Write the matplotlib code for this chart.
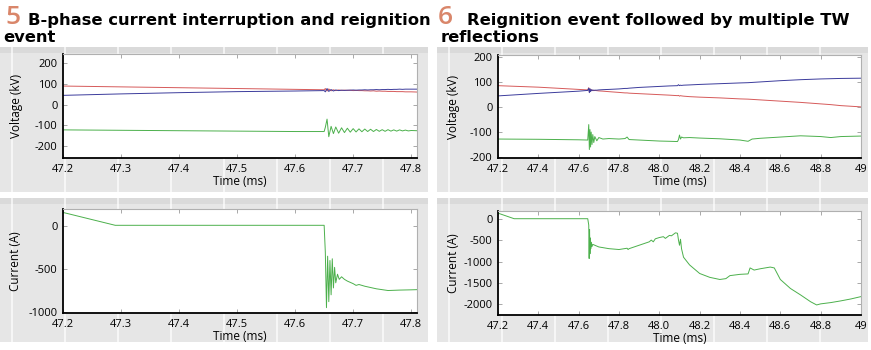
import matplotlib.pyplot as plt
from matplotlib.patches import Rectangle
from matplotlib.lines import Line2D

# ---- panel 5: B-phase current interruption and reignition ----
t5v = [47.20, 47.30, 47.40, 47.50, 47.60, 47.650, 47.652, 47.655, 47.658, 47.662,
       47.666, 47.670, 47.675, 47.680, 47.685, 47.690, 47.695, 47.700, 47.705, 47.710,
       47.715, 47.720, 47.725, 47.730, 47.735, 47.740, 47.745, 47.750, 47.755, 47.760,
       47.765, 47.770, 47.775, 47.780, 47.785, 47.790, 47.795, 47.800, 47.810]
v5_red = [90, 86, 82, 78, 74, 72, 78, 66, 76, 67,
          72, 68, 71, 69, 70, 69, 70, 68, 69, 68,
          68, 67, 67, 66, 67, 65, 66, 65, 65, 64,
          64, 64, 63, 63, 63, 62, 62, 62, 61]
v5_blue = [45, 52, 58, 63, 66, 68, 62, 78, 64, 73,
           66, 71, 68, 70, 69, 70, 70, 71, 70, 71,
           71, 72, 71, 72, 72, 73, 72, 73, 73, 74,
           73, 74, 74, 75, 74, 75, 75, 75, 75]
v5_green = [-122, -124, -126, -128, -130, -130, -110, -70, -155, -105,
            -140, -108, -138, -112, -135, -114, -133, -116, -132, -117,
            -131, -118, -130, -119, -130, -120, -129, -121, -129, -121,
            -128, -122, -128, -122, -127, -123, -127, -125, -126]

t5i = [47.20, 47.29, 47.40, 47.50, 47.60, 47.650, 47.652, 47.654, 47.656, 47.658,
       47.660, 47.662, 47.664, 47.666, 47.668, 47.670, 47.673, 47.676, 47.680, 47.685,
       47.690, 47.700, 47.705, 47.710, 47.720, 47.740, 47.760, 47.780, 47.800, 47.810]
i5 = [160, 10, 10, 10, 10, 10, -300, -950, -350, -880,
      -400, -800, -380, -720, -480, -660, -560, -620, -590, -620,
      -640, -670, -690, -680, -700, -730, -750, -745, -742, -740]

# ---- panel 6: reignition followed by multiple TW reflections ----
t6v = [47.20, 47.40, 47.60, 47.645, 47.650, 47.653, 47.656, 47.659, 47.662, 47.666,
       47.670, 47.675, 47.680, 47.690, 47.700, 47.720, 47.750, 47.800, 47.830, 47.840,
       47.850, 47.900, 47.950, 48.000, 48.050, 48.090, 48.095, 48.100, 48.105, 48.110,
       48.120, 48.150, 48.200, 48.300, 48.400, 48.440, 48.460, 48.500, 48.600, 48.700,
       48.800, 48.850, 48.900, 49.000]
v6_red = [86, 80, 71, 69, 78, 60, 72, 64, 70, 66,
          68, 66, 67, 66, 65, 64, 62, 59, 57, 57,
          56, 54, 52, 50, 48, 46, 47, 44, 46, 45,
          44, 42, 40, 37, 33, 32, 31, 29, 24, 19,
          13, 10, 6, 1]
v6_blue = [45, 55, 64, 67, 76, 58, 74, 62, 70, 66,
           69, 67, 68, 68, 69, 70, 71, 73, 75, 75,
           76, 79, 81, 83, 85, 86, 90, 86, 88, 87,
           88, 89, 91, 94, 97, 98, 99, 101, 106, 110,
           113, 114, 115, 116]
v6_green = [-128, -129, -131, -132, -70, -170, -90, -160, -100, -150,
            -110, -142, -118, -135, -122, -128, -126, -128, -126, -120,
            -130, -132, -134, -136, -137, -138, -130, -112, -128, -120,
            -123, -122, -124, -127, -132, -137, -128, -125, -120, -115,
            -118, -122, -118, -116]

t6i = [47.20, 47.28, 47.40, 47.50, 47.645, 47.650, 47.652, 47.654, 47.656, 47.658,
       47.660, 47.663, 47.666, 47.670, 47.700, 47.750, 47.800, 47.840, 47.845, 47.850,
       47.900, 47.950, 47.960, 47.970, 47.980, 48.000, 48.020, 48.030, 48.050, 48.060,
       48.080, 48.090, 48.095, 48.100, 48.105, 48.110, 48.120, 48.150, 48.200, 48.250,
       48.300, 48.330, 48.350, 48.400, 48.440, 48.450, 48.470, 48.500, 48.550, 48.570,
       48.600, 48.650, 48.700, 48.750, 48.780, 48.800, 48.850, 48.900, 48.950, 49.000]
i6 = [130, 0, 0, 0, 0, -150, -930, -250, -820, -450,
      -700, -550, -650, -600, -660, -700, -720, -690, -720, -700,
      -620, -540, -500, -540, -470, -440, -420, -460, -390, -400,
      -330, -340, -500, -620, -480, -700, -900, -1080, -1280, -1370,
      -1420, -1400, -1330, -1300, -1290, -1150, -1200, -1170, -1130, -1150,
      -1420, -1630, -1780, -1940, -2015, -1990, -1960, -1920, -1875, -1820]

x5_ticks = [47.2, 47.3, 47.4, 47.5, 47.6, 47.7, 47.8]
x6_ticks = [47.2, 47.4, 47.6, 47.8, 48.0, 48.2, 48.4, 48.6, 48.8, 49.0]
x6_labels = ['47.2', '47.4', '47.6', '47.8', '48.0', '48.2', '48.4', '48.6', '48.8', '49']

RED, BLUE, GREEN = '#d65a5a', '#3c3c9c', '#4cb04c'
W, H = 871, 350
TICKFONT = 'Open Sans'

fig = plt.figure(figsize=(W / 100, H / 100), dpi=100)
fig.patch.set_facecolor('white')


def px_axes(x0, y0, x1, y1):
    return fig.add_axes([x0 / W, 1 - y1 / H, (x1 - x0) / W, (y1 - y0) / H])


def backdrop(x0, y0, x1, y1):
    fig.patches.append(Rectangle((x0 / W, 1 - y1 / H), (x1 - x0) / W, (y1 - y0) / H,
                                 transform=fig.transFigure, facecolor='#e6e6e6',
                                 edgecolor='none', zorder=-3))
    fig.patches.append(Rectangle((x0 / W, 1 - (y0 + 6) / H), (x1 - x0) / W, 6 / H,
                                 transform=fig.transFigure, facecolor='#dadada',
                                 edgecolor='none', zorder=-2))
    x = x0 + 12
    while x < x1:
        fig.lines.append(Line2D([x / W, x / W], [1 - y1 / H, 1 - y0 / H],
                                transform=fig.transFigure, color='white',
                                lw=1.2, alpha=0.8, zorder=-1))
        x += 53


def style(ax, xlim, ylim, xticks, xlabels, yticks, ylabel, lx):
    ax.set_xlim(*xlim)
    ax.set_ylim(*ylim)
    ax.set_xticks(xticks)
    ax.set_xticklabels(xlabels, fontfamily=TICKFONT)
    ax.set_yticks(yticks)
    ax.set_yticklabels([str(v) for v in yticks], fontfamily=TICKFONT)
    ax.tick_params(direction='in', length=3, width=0.6, color='#9a9a9a',
                   labelsize=8, pad=4, top=True, right=True)
    for s in ('left', 'bottom'):
        ax.spines[s].set_color('black')
        ax.spines[s].set_linewidth(1.3)
    for s in ('top', 'right'):
        ax.spines[s].set_color('#b0b0b0')
        ax.spines[s].set_linewidth(0.8)
    ax.set_xlabel('Time (ms)', fontsize=8.5, fontfamily=TICKFONT, labelpad=0)
    ax.set_ylabel(ylabel, fontsize=8.5, fontfamily=TICKFONT)
    ax.yaxis.set_label_coords(lx, 0.5)


backdrop(0, 47, 428, 192)
backdrop(0, 198, 428, 342)
backdrop(437, 47, 868, 192)
backdrop(437, 198, 868, 342)

# panel 5 voltage
ax = px_axes(63, 54, 417, 158)
ax.plot(t5v, v5_green, color=GREEN, lw=0.7)
ax.plot(t5v, v5_red, color=RED, lw=0.7)
ax.plot(t5v, v5_blue, color=BLUE, lw=0.7)
style(ax, (47.2, 47.81), (-258, 245), x5_ticks, [f'{v:.1f}' for v in x5_ticks],
      [-200, -100, 0, 100, 200], 'Voltage (kV)', -0.113)

# panel 5 current
ax = px_axes(63, 209, 417, 313)
ax.plot(t5i, i5, color=GREEN, lw=0.7)
style(ax, (47.2, 47.81), (-1012, 200), x5_ticks, [f'{v:.1f}' for v in x5_ticks],
      [-1000, -500, 0], 'Current (A)', -0.116)

# panel 6 voltage
ax = px_axes(498, 55, 861, 158)
ax.plot(t6v, v6_green, color=GREEN, lw=0.7)
ax.plot(t6v, v6_red, color=RED, lw=0.7)
ax.plot(t6v, v6_blue, color=BLUE, lw=0.7)
style(ax, (47.2, 49.0), (-204, 209), x6_ticks, x6_labels,
      [-200, -100, 0, 100, 200], 'Voltage (kV)', -0.106)

# panel 6 current
ax = px_axes(498, 211, 861, 315)
ax.plot(t6i, i6, color=GREEN, lw=0.7)
style(ax, (47.2, 49.0), (-2250, 180), x6_ticks, x6_labels,
      [-2000, -1500, -1000, -500, 0], 'Current (A)', -0.106)

# titles
ORANGE = '#d9866a'
TFONT = 'DejaVu Sans'
TSIZE = 11.8
fig.text(5 / W, 1 - 24 / H, '5', color=ORANGE, fontsize=19, fontfamily='Open Sans',
         fontweight='semibold', va='baseline')
fig.text(28 / W, 1 - 25 / H, 'B-phase current interruption and reignition',
         fontsize=TSIZE, fontweight='bold', fontfamily=TFONT, va='baseline')
fig.text(3 / W, 1 - 42 / H, 'event', fontsize=TSIZE, fontweight='bold',
         fontfamily=TFONT, va='baseline')
fig.text(438 / W, 1 - 24 / H, '6', color=ORANGE, fontsize=19, fontfamily='Open Sans',
         fontweight='semibold', va='baseline')
fig.text(467 / W, 1 - 25 / H, 'Reignition event followed by multiple TW',
         fontsize=TSIZE, fontweight='bold', fontfamily=TFONT, va='baseline')
fig.text(441 / W, 1 - 42 / H, 'reflections', fontsize=TSIZE, fontweight='bold',
         fontfamily=TFONT, va='baseline')

fig.savefig('out.png', dpi=100)
